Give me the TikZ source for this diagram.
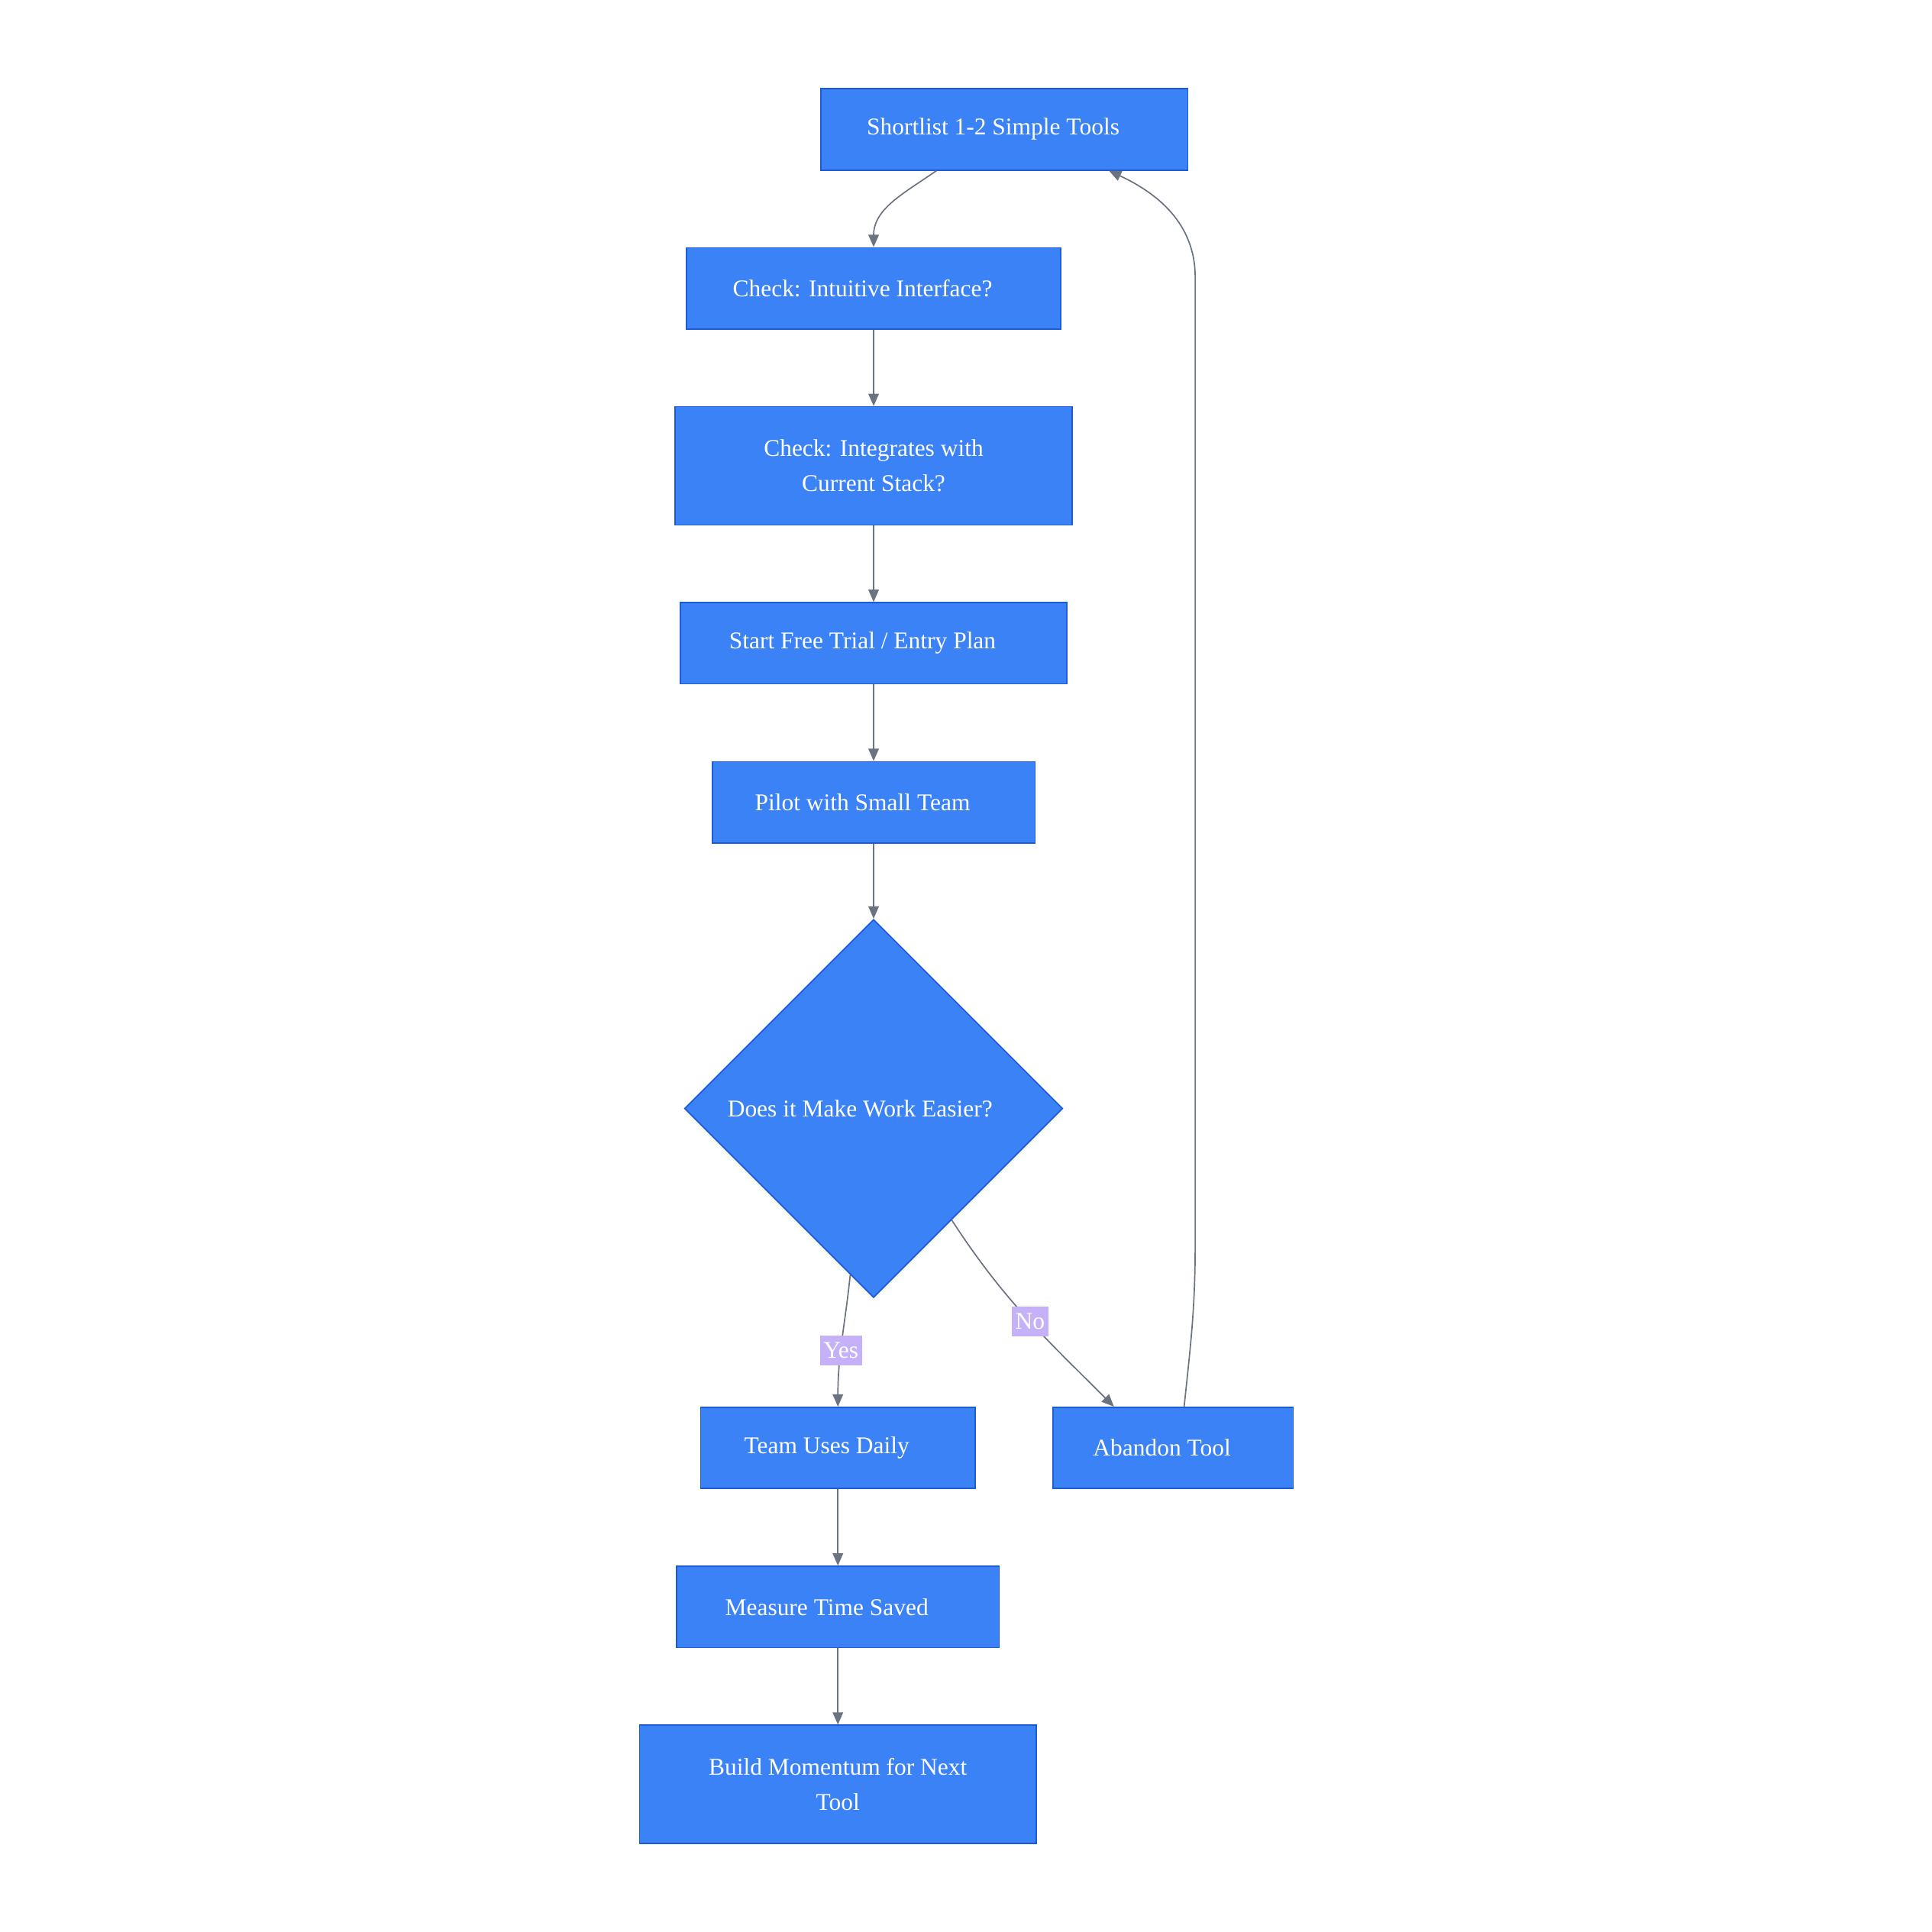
\documentclass[tikz,border=0pt]{standalone}
\usepackage{fontspec}
\setmainfont{Liberation Serif}
\usetikzlibrary{shapes.geometric, arrows.meta, positioning}
\definecolor{stepblue}{RGB}{59,130,246}
\definecolor{stepedge}{RGB}{29,90,214}
\definecolor{flowgray}{RGB}{107,114,128}
\definecolor{tagviolet}{RGB}{196,177,248}

\begin{document}
\begin{tikzpicture}[
    x=0.02cm, y=0.02cm,
    node distance=1.24cm,
    box/.style={rectangle, draw=stepedge, fill=stepblue, line width=0.6pt, text=white, minimum height=1.32cm, inner sep=0pt, font=\fontsize{11.1}{16.4}\selectfont, execute at end node={\hspace*{0.36cm}}},
    wrapbox/.style={rectangle, draw=stepedge, fill=stepblue, line width=0.6pt, text=white, minimum height=1.92cm, inner sep=0pt, align=center, font=\fontsize{11.1}{16.4}\selectfont},
    choice/.style={diamond, aspect=1, draw=stepedge, fill=stepblue, line width=0.6pt, text=white, minimum size=6.14cm, inner sep=0pt, font=\fontsize{11.1}{16.4}\selectfont, execute at end node={\hspace*{0.44cm}}},
    tag/.style={fill=tagviolet, text=white, inner sep=0.06cm, minimum height=0.48cm, font=\fontsize{11.1}{16.4}\selectfont},
    flow/.style={draw=flowgray, line width=0.6pt, -{Triangle[length=0.2cm, width=0.17cm]}}
]
\useasboundingbox (0,0) rectangle (1568,-1568);

\node[box, minimum width=5.96cm] (short) at (815,-105) {Shortlist 1-2 Simple Tools};
\node[box, minimum width=6.08cm, below=of short, xshift=-2.12cm] (intuit) {Check: Intuitive Interface?};
\node[wrapbox, minimum width=6.44cm, below=of intuit] (integ) {Check: Integrates with\\Current Stack?};
\node[box, minimum width=6.28cm, below=of integ] (trial) {Start Free Trial / Entry Plan};
\node[box, minimum width=5.24cm, below=of trial] (pilot) {Pilot with Small Team};
\node[choice, below=1.22cm of pilot] (easier) {Does it Make Work Easier?};
\node[box, minimum width=4.46cm, below=1.76cm of easier, xshift=-0.58cm] (daily) {Team Uses Daily};
\node[box, minimum width=3.9cm, right=1.24cm of daily] (abandon) {Abandon Tool};
\node[box, minimum width=5.24cm, below=of daily] (measure) {Measure Time Saved};
\node[wrapbox, minimum width=6.44cm, below=of measure] (momentum) {Build Momentum for Next\\Tool};

\draw[flow] ([xshift=-1.1cm]short.south) to[out=-145, in=90] (intuit.north);
\draw[flow] (intuit) -- (integ);
\draw[flow] (integ) -- (trial);
\draw[flow] (trial) -- (pilot);
\draw[flow] (pilot) -- (easier);
\draw[flow] (easier.-98) to[out=-96, in=90] node[tag, pos=0.58] {Yes} (daily.north);
\draw[flow] (easier.-55) to[out=-57, in=135] node[tag, pos=0.52] {No} ([xshift=-0.96cm]abandon.north);
\draw[flow] ([xshift=0.18cm]abandon.north) to[out=84, in=-90] (970,-1010) -- (970,-225) to[out=90, in=-25] ([xshift=1.7cm]short.south);
\draw[flow] (daily) -- (measure);
\draw[flow] (measure) -- (momentum);
\end{tikzpicture}
\end{document}
